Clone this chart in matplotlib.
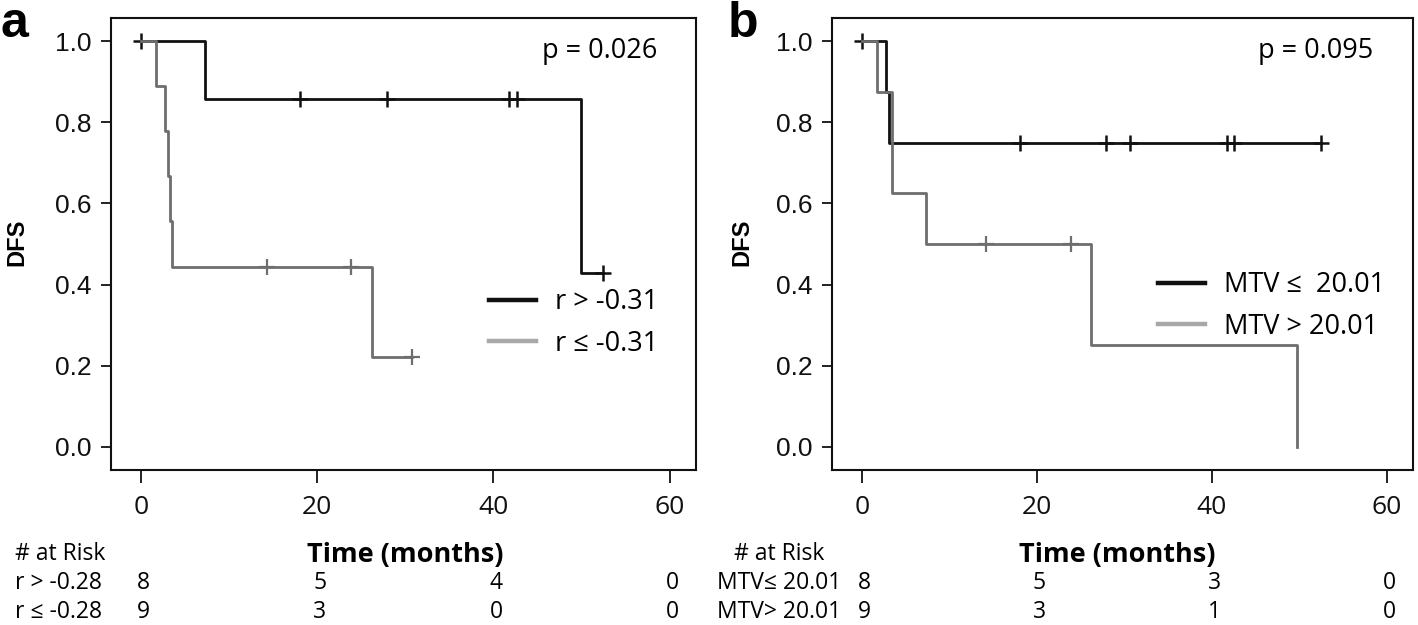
import matplotlib
matplotlib.use("Agg")
import matplotlib.pyplot as plt
from matplotlib.lines import Line2D
from matplotlib.transforms import blended_transform_factory
import numpy as np

# ---------------- data ----------------
# Panel a
a_hi_times = [0, 7.3, 49.9, 52.5]
a_hi_surv = [1.0, 0.857, 0.429, 0.429]
a_hi_cens = [0, 18.1, 27.9, 41.8, 42.7, 52.5]
a_lo_times = [0, 1.7, 2.7, 3.1, 3.3, 3.5, 26.2, 30.8]
a_lo_surv = [1.0, 0.889, 0.778, 0.667, 0.556, 0.444, 0.222, 0.222]
a_lo_cens = [14.3, 23.8, 30.8]
a_legend = ["r > -0.31", "r \u2264 -0.31"]
a_pval = "p = 0.026"
a_risk_labels = ["r > -0.28", "r \u2264 -0.28"]
a_risk_hi = [8, 5, 4, 0]
a_risk_lo = [9, 3, 0, 0]

# Panel b
b_hi_times = [0, 2.77, 3.1, 52.5]
b_hi_surv = [1.0, 0.875, 0.75, 0.75]
b_hi_cens = [0, 18.1, 27.9, 30.7, 41.7, 42.5, 52.5]
b_lo_times = [0, 1.75, 3.4, 7.33, 26.2, 49.8]
b_lo_surv = [1.0, 0.875, 0.625, 0.5, 0.25, 0.0]
b_lo_cens = [14.2, 23.9]
b_legend = ["MTV \u2264  20.01", "MTV > 20.01"]
b_pval = "p = 0.095"
b_risk_labels = ["MTV\u2264 20.01", "MTV> 20.01"]
b_risk_hi = [8, 5, 3, 0]
b_risk_lo = [9, 3, 1, 0]

risk_times = [0, 20, 40, 60]
xticks = [0, 20, 40, 60]
yticks = [0.0, 0.2, 0.4, 0.6, 0.8, 1.0]

# ---------------- style ----------------
W, H = 1418, 625
BLACK = "#111111"
GRAY = "#6e6e6e"
LEG_GRAY = "#a8a8a8"
SANS = ["Open Sans", "DejaVu Sans"]
HELV = ["Liberation Sans", "DejaVu Sans"]

fig = plt.figure(figsize=(W / 100, H / 100), dpi=100)


def fx(px):
    return px / W


def fy(py):
    return 1 - py / H


def step_value(times, surv, t):
    idx = np.searchsorted(times, t, side="right") - 1
    return surv[max(idx, 0)]


def panel(rect, hi_t, hi_s, hi_c, lo_t, lo_s, lo_c, legend_labels,
          leg_xy, pval, pval_xy, letter, letter_x, dfs_x, time_x,
          risk_labels, risk_hi, risk_lo, label_x, label_ha):
    ax = fig.add_axes(rect)
    ax.step(hi_t, hi_s, where="post", color=BLACK, lw=2.0, zorder=3)
    ax.plot(hi_c, [step_value(hi_t, hi_s, c) for c in hi_c], ls="none",
            marker="+", ms=12, mew=1.8, color=BLACK, zorder=4)
    ax.step(lo_t, lo_s, where="post", color=GRAY, lw=2.0, zorder=5)
    ax.plot(lo_c, [step_value(lo_t, lo_s, c) for c in lo_c], ls="none",
            marker="+", ms=12, mew=1.6, color=GRAY, zorder=6)

    ax.set_xlim(-3.4, 63.0)
    ax.set_ylim(-0.057, 1.057)
    ax.set_xticks(xticks)
    ax.set_yticks(yticks)
    ax.set_yticklabels([f"{v:.1f}" for v in yticks], family=HELV, fontsize=19)
    ax.set_xticklabels([str(v) for v in xticks], family=SANS, fontsize=19)
    ax.tick_params(axis="y", length=7, width=1.3, pad=7, colors=BLACK)
    ax.tick_params(axis="x", length=9, width=1.3, pad=9, colors=BLACK)
    for s in ax.spines.values():
        s.set_linewidth(1.5)
        s.set_color(BLACK)

    handles = [Line2D([], [], color=BLACK, lw=3.2),
               Line2D([], [], color=LEG_GRAY, lw=3.2)]
    ax.legend(handles, legend_labels, loc="upper left",
              bbox_to_anchor=(fx(leg_xy[0]), fy(leg_xy[1])),
              bbox_transform=fig.transFigure, frameon=False,
              prop={"family": SANS, "size": 19.5}, borderpad=0,
              borderaxespad=0, handlelength=1.75, handletextpad=0.7,
              labelspacing=0.5)

    fig.text(fx(pval_xy[0]), fy(pval_xy[1]), pval, family=SANS, fontsize=19.5,
             va="baseline", ha="left")
    fig.text(fx(letter_x), fy(37), letter, family=HELV, fontsize=36,
             fontweight="bold", va="baseline", ha="left")
    fig.text(fx(dfs_x), fy(242), "DFS", family=HELV, fontsize=17,
             fontweight="bold", rotation=90, va="center", ha="center")
    fig.text(fx(time_x), fy(555), "Time (months)", family=SANS, fontsize=19.5,
             fontweight="bold", va="center", ha="center")

    # risk table
    fig.text(fx(label_x), fy(554), "# at Risk", family=SANS, fontsize=16.5,
             va="center", ha=label_ha)
    tr = blended_transform_factory(ax.transData, fig.transFigure)
    for row_label, vals, py in zip(risk_labels, [risk_hi, risk_lo], [583, 612]):
        fig.text(fx(label_x), fy(py), row_label, family=SANS, fontsize=16.5,
                 va="center", ha=label_ha)
        for t, v in zip(risk_times, vals):
            ax.text(t + 0.3, fy(py), str(v), transform=tr, family=SANS,
                    fontsize=16.5, va="center", ha="center", clip_on=False)
    return ax


ax_a = panel([fx(111), fy(470), fx(696 - 111), fy(18) - fy(470)],
             a_hi_times, a_hi_surv, a_hi_cens, a_lo_times, a_lo_surv, a_lo_cens,
             a_legend, (489, 288), a_pval, (542, 58), "a", 0, 16.5, 405,
             a_risk_labels, a_risk_hi, a_risk_lo, 15, "left")

ax_b = panel([fx(832), fy(470), fx(1413 - 832), fy(18) - fy(470)],
             b_hi_times, b_hi_surv, b_hi_cens, b_lo_times, b_lo_surv, b_lo_cens,
             b_legend, (1158, 271), b_pval, (1258, 58), "b", 728, 742, 1117,
             b_risk_labels, b_risk_hi, b_risk_lo, 779, "center")

fig.savefig("out.png", dpi=100)
